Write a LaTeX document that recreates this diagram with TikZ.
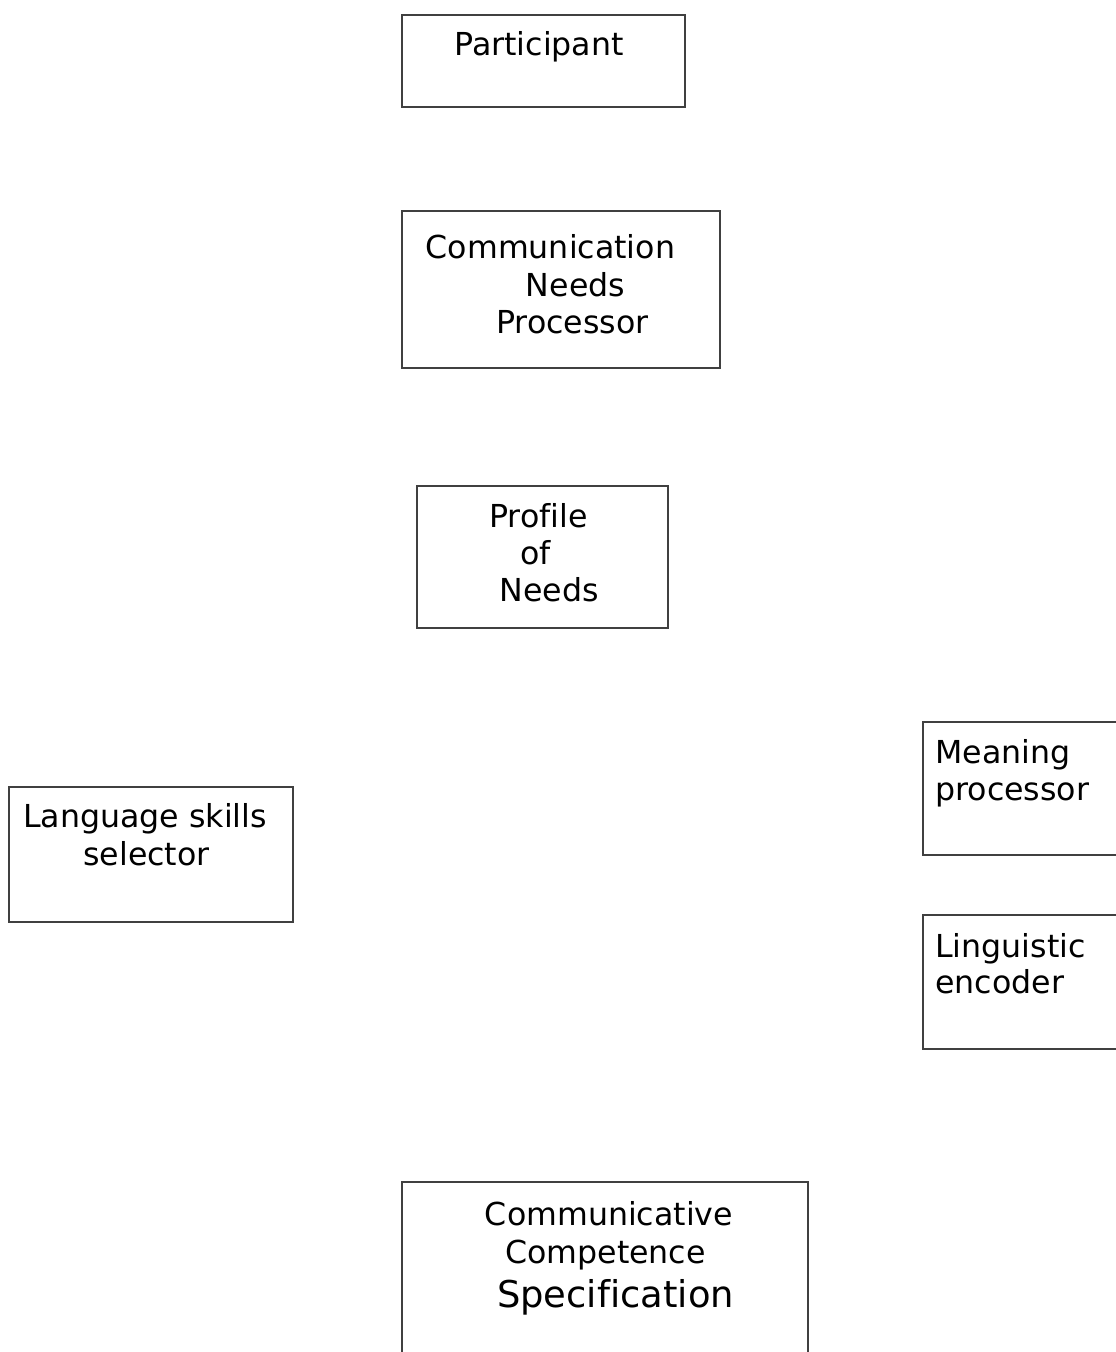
\documentclass[tikz,border=0pt]{standalone}
\usepackage{fontspec}
\setmainfont{DejaVu Sans}[Ligatures=NoCommon]
\usepackage{tikz}
\usetikzlibrary{positioning}
\tikzset{box/.style={draw=black!75,line width=0.6pt,rectangle,inner sep=0pt}}
\tikzset{lbl/.style={anchor=base,inner sep=0pt,font=\fontsize{18}{21}\selectfont}}
\tikzset{lblw/.style={lbl,anchor=base west}}

\begin{document}
\begin{tikzpicture}
			\useasboundingbox (0,0) rectangle (22.32,-27.04);
			\clip (0,0) rectangle (22.32,-27.04);
			
			\node[box,minimum width=5.66cm,minimum height=1.84cm] (participant) at (10.87,-1.22) {};
			\node[box,minimum width=6.36cm,minimum height=3.14cm] (cnp) at (11.22,-5.79) {};
			\node[box,minimum width=5.02cm,minimum height=2.84cm] (profile) at (10.85,-11.14) {};
			\node[box,minimum width=5.68cm,minimum height=2.70cm] (skills) at (3.02,-17.09) {};
			\node[box,minimum width=5.68cm,minimum height=2.66cm] (meaning) at (21.30,-15.77) {};
			\node[box,minimum width=5.68cm,minimum height=2.68cm] (encoder) at (21.30,-19.64) {};
			\node[box,minimum width=8.12cm,minimum height=4.20cm] (ccs) at (12.10,-25.74) {};
			
			\node[lbl] (participantA) at (10.78,-1.10) {Participant};
			
			\node[lbl] (cnpA) at (11.01,-5.16) {Communication};
			\node[lbl] (cnpB) at (11.51,-5.92) {Needs};
			\node[lbl] (cnpC) at (11.45,-6.66) {Processor};
			
			\node[lbl] (profileA) at (10.77,-10.54) {Profile};
			\node[lbl] (profileB) at (10.71,-11.28) {of};
			\node[lbl] (profileC) at (10.98,-12.02) {Needs};
			
			\node[lbl] (skillsA) at (2.90,-16.54) {Language skills};
			\node[lbl] (skillsB) at (2.93,-17.30) {selector};
			
			\node[lblw] (meaningA) at (18.70,-15.26) {Meaning};
			\node[lblw] (meaningB) at (18.70,-16.00) {processor};
			
			\node[lblw] (encoderA) at (18.70,-19.14) {Linguistic};
			\node[lblw] (encoderB) at (18.70,-19.86) {encoder};
			
			\node[lbl] (ccsA) at (12.18,-24.50) {Communicative};
			\node[lbl] (ccsB) at (12.11,-25.26) {Competence};
			\node[lbl,font=\fontsize{21}{25}\selectfont] (ccsC) at (12.31,-26.14) {Specification};
			\end{tikzpicture}
\end{document}
